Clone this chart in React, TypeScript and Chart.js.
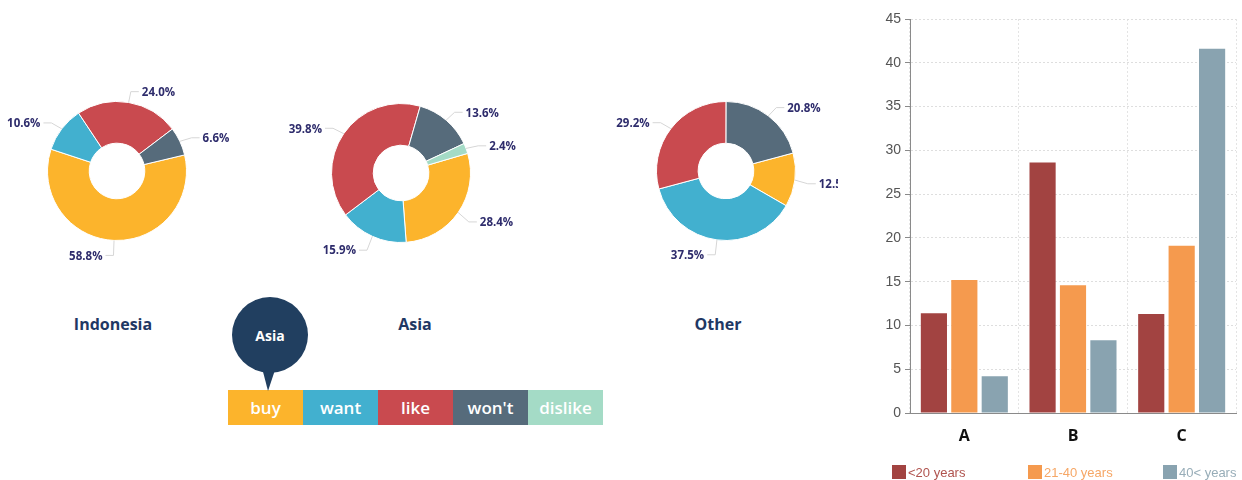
import React, { useEffect, useRef } from "react";
import { Chart, registerables } from "chart.js";

Chart.register(...registerables);

// ---------- data ----------
const responseLabels = ["buy", "want", "like", "won't", "dislike"];
const responseColors = ["#fcb42c", "#42b0cf", "#c94a4f", "#566b7b", "#a4dbc6"];
const indonesiaValues = [58.8, 10.6, 24.0, 6.6, 0];
const asiaValues = [28.4, 15.9, 39.8, 13.6, 2.4];
const otherValues = [12.5, 37.5, 29.2, 20.8, 0];
const regionNames = ["Indonesia", "Asia", "Other"];
const calloutLabel = "Asia";

const groupLabels = ["A", "B", "C"];
const ageLabels = ["<20 years", "21-40 years", "40< years"];
const under20Values = [11.4, 28.6, 11.3];
const age21to40Values = [15.2, 14.6, 19.1];
const over40Values = [4.2, 8.3, 41.6];
const ageColors = ["#a24341", "#f59a4e", "#89a3b0"];
const ageTextColors = ["#b0544f", "#f6a766", "#97adb8"];

// ---------- doughnut outer labels ----------
const outerLabels = {
  id: "outerLabels",
  afterDatasetsDraw(chart: any) {
    const ctx = chart.ctx;
    const meta = chart.getDatasetMeta(0);
    const data = chart.data.datasets[0].data as number[];
    meta.data.forEach((arc: any, i: number) => {
      const v = data[i];
      if (!v) return;
      const p = arc.getProps(["x", "y", "startAngle", "endAngle", "outerRadius"], true);
      const mid = (p.startAngle + p.endAngle) / 2;
      const c = Math.cos(mid);
      const s = Math.sin(mid);
      const x1 = p.x + c * p.outerRadius;
      const y1 = p.y + s * p.outerRadius;
      const x2 = p.x + c * (p.outerRadius + 13);
      const y2 = p.y + s * (p.outerRadius + 13) + 2;
      const right = c >= 0;
      const x3 = x2 + (right ? 8 : -8);
      ctx.save();
      ctx.strokeStyle = "#d6d6d6";
      ctx.lineWidth = 1;
      ctx.beginPath();
      ctx.moveTo(x1, y1);
      ctx.lineTo(x2, y2);
      ctx.lineTo(x3, y2);
      ctx.stroke();
      ctx.fillStyle = "#2e2c6c";
      ctx.font = "700 11.5px 'Open Sans'";
      ctx.textAlign = right ? "left" : "right";
      ctx.textBaseline = "middle";
      ctx.fillText(v.toFixed(1) + "%", x3 + (right ? 3 : -3), y2 + 1);
      ctx.restore();
    });
  },
};

type DonutProps = {
  values: number[];
  rotation: number;
  left: number;
  top: number;
  width: number;
  height: number;
  padding: { left: number; right: number; top: number; bottom: number };
};

function Donut({ values, rotation, left, top, width, height, padding }: DonutProps) {
  const ref = useRef<HTMLCanvasElement | null>(null);
  useEffect(() => {
    if (!ref.current) return;
    const chart = new Chart(ref.current, {
      type: "doughnut",
      data: {
        labels: responseLabels,
        datasets: [
          {
            data: values,
            backgroundColor: responseColors,
            borderColor: "#ffffff",
            borderWidth: 1,
          },
        ],
      },
      options: {
        animation: false,
        responsive: false,
        cutout: "40%",
        rotation,
        layout: { padding },
        plugins: { legend: { display: false }, tooltip: { enabled: false } },
      },
      plugins: [outerLabels],
    });
    return () => chart.destroy();
  }, []);
  return (
    <canvas
      ref={ref}
      width={width}
      height={height}
      style={{ position: "absolute", left, top, width, height }}
    />
  );
}

function BarChart() {
  const ref = useRef<HTMLCanvasElement | null>(null);
  useEffect(() => {
    if (!ref.current) return;
    const series = [under20Values, age21to40Values, over40Values];
    const chart = new Chart(ref.current, {
      type: "bar",
      data: {
        labels: groupLabels,
        datasets: series.map((d, i) => ({
          label: ageLabels[i],
          data: d,
          backgroundColor: ageColors[i],
          categoryPercentage: 0.84,
          barPercentage: 0.86,
        })),
      },
      options: {
        animation: false,
        responsive: false,
        layout: { padding: { top: 19, right: 6, left: 0, bottom: 0 } },
        plugins: { legend: { display: false }, tooltip: { enabled: false } },
        scales: {
          x: {
            offset: true,
            grid: { display: true, offset: true, color: "#e4e4e4", drawTicks: false },
            border: { display: true, color: "#8a8a8a", width: 1, dash: [2, 2] },
            ticks: {
              color: "#111111",
              font: { family: "'Open Sans'", size: 16, weight: "bold" },
              padding: 14,
            },
            afterFit: (scale: any) => {
              scale.height = 67;
            },
          },
          y: {
            min: 0,
            max: 45,
            ticks: {
              stepSize: 5,
              color: "#555555",
              font: { family: "'Liberation Sans'", size: 14 },
              padding: 4,
            },
            grid: {
              color: "#dedede",
              tickColor: "#8a8a8a",
              tickLength: 5,
              tickBorderDash: [],
            },
            border: { display: true, color: "#8a8a8a", width: 1, dash: [2, 2] },
            afterFit: (scale: any) => {
              scale.width = 50;
            },
          },
        },
      },
    });
    return () => chart.destroy();
  }, []);
  return (
    <canvas
      ref={ref}
      width={382}
      height={480}
      style={{ position: "absolute", left: 860, top: 0, width: 382, height: 480 }}
    />
  );
}

const titleStyle: React.CSSProperties = {
  position: "absolute",
  transform: "translate(-50%, -50%)",
  font: "700 16px 'Open Sans'",
  color: "#1f3864",
  whiteSpace: "nowrap",
};

export default function App() {
  const titleX = [113, 415, 718];
  const legendX = [892, 1028, 1163];
  return (
    <div
      style={{
        position: "absolute",
        left: 0,
        top: 0,
        width: 1242,
        height: 480,
        overflow: "hidden",
        background: "#ffffff",
      }}
    >
      <Donut
        values={indonesiaValues}
        rotation={76.6}
        left={0}
        top={71}
        width={240}
        height={200}
        padding={{ left: 47, right: 53, top: 30, bottom: 30 }}
      />
      <Donut
        values={asiaValues}
        rotation={73.6}
        left={280}
        top={73}
        width={260}
        height={200}
        padding={{ left: 51, right: 69, top: 30, bottom: 30 }}
      />
      <Donut
        values={otherValues}
        rotation={75}
        left={600}
        top={71}
        width={238}
        height={200}
        padding={{ left: 56, right: 42, top: 30, bottom: 30 }}
      />
      {regionNames.map((n, i) => (
        <div key={n} style={{ ...titleStyle, left: titleX[i], top: 324 }}>
          {n}
        </div>
      ))}

      {/* response legend bar */}
      {responseLabels.map((l, i) => (
        <div
          key={l}
          style={{
            position: "absolute",
            left: 228 + i * 75,
            top: 390,
            width: 75,
            height: 35,
            background: responseColors[i],
            color: "#ffffff",
            font: "600 17px 'Open Sans'",
            display: "flex",
            alignItems: "center",
            justifyContent: "center",
          }}
        >
          {l}
        </div>
      ))}

      {/* callout */}
      <svg
        width={90}
        height={100}
        style={{ position: "absolute", left: 225, top: 294 }}
      >
        <path d="M 36 70 L 52 70 L 43 97 Z" fill="#213f60" />
        <circle cx={45} cy={41} r={38} fill="#213f60" />
      </svg>
      <div
        style={{
          position: "absolute",
          left: 270,
          top: 335,
          transform: "translate(-50%, -50%)",
          color: "#ffffff",
          font: "700 14px 'Open Sans'",
        }}
      >
        {calloutLabel}
      </div>

      <BarChart />

      {/* bar legend */}
      {ageLabels.map((l, i) => (
        <div
          key={l}
          style={{
            position: "absolute",
            left: legendX[i],
            top: 465,
            height: 14,
            display: "flex",
            alignItems: "center",
            whiteSpace: "nowrap",
          }}
        >
          <div style={{ width: 14, height: 14, background: ageColors[i] }} />
          <span
            style={{
              marginLeft: 2,
              font: "13px 'Liberation Sans'",
              color: ageTextColors[i],
            }}
          >
            {l}
          </span>
        </div>
      ))}
    </div>
  );
}
